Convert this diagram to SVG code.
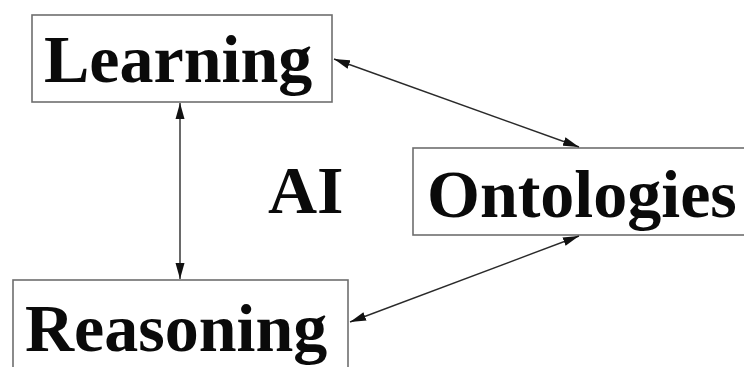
<svg xmlns="http://www.w3.org/2000/svg" width="744" height="367" viewBox="0 0 744 367">
  <style>
    .box { fill: #ffffff; stroke: #6e6e6e; stroke-width: 1.6; }
    .label { font-family: "Liberation Serif", "Times New Roman", serif; font-weight: bold; font-size: 68px; fill: #0a0a0a; }
    .link { stroke: #2a2a2a; stroke-width: 1.4; fill: none; marker-start: url(#head); marker-end: url(#head); }
  </style>
  <defs>
    <!-- filled triangular head, reused at both ends of every link -->
    <marker id="head" viewBox="0 0 16 10" refX="16" refY="5" markerWidth="16" markerHeight="10" markerUnits="userSpaceOnUse" orient="auto-start-reverse">
      <path d="M0,0.5 L16,5 L0,9.5 Z" fill="#111111"/>
    </marker>
  </defs>
  <rect width="744" height="367" fill="#ffffff"/>

  <g id="learning">
    <rect class="box" x="32" y="15" width="300" height="87"/>
    <text class="label" x="44" y="82">Learning</text>
  </g>

  <g id="ontologies">
    <rect class="box" x="413" y="148" width="340" height="87"/>
    <text class="label" x="427" y="217">Ontologies</text>
  </g>

  <g id="reasoning">
    <rect class="box" x="13" y="280" width="335" height="100"/>
    <text class="label" x="25" y="351">Reasoning</text>
  </g>

  <g id="ai">
    <text class="label" x="268" y="213">AI</text>
  </g>

  <g id="connectors">
    <line class="link" x1="180" y1="103" x2="180" y2="279"/>
    <line class="link" x1="334" y1="59" x2="579" y2="147"/>
    <line class="link" x1="350" y1="322" x2="579" y2="236"/>
  </g>
</svg>
